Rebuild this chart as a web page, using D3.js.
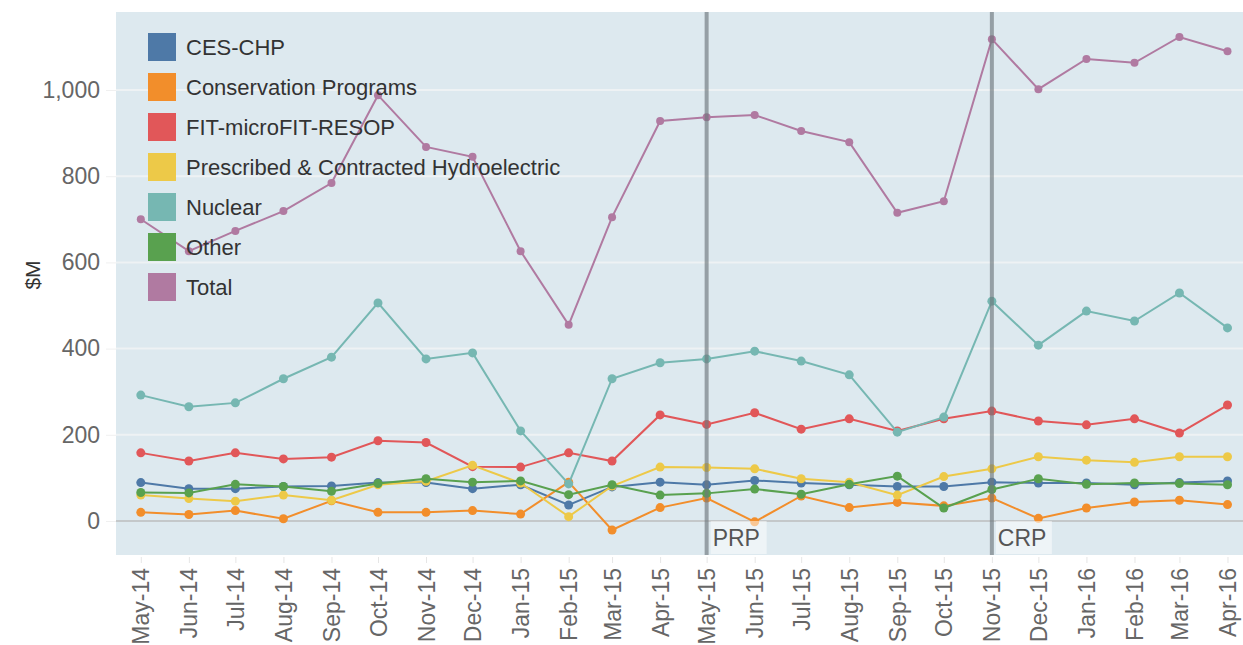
<!DOCTYPE html>
<html>
<head>
<meta charset="utf-8">
<script src="https://cdn.jsdelivr.net/npm/d3@7"></script>
<style>
  body { margin: 0; background: #fff; }
  svg { display: block; font-family: "Liberation Sans", Arial, sans-serif; }
</style>
</head>
<body>
<svg width="1243" height="645"></svg>
<script>
// month labels (first of month)
var months = ["May-14", "Jun-14", "Jul-14", "Aug-14", "Sep-14", "Oct-14", "Nov-14", "Dec-14",
  "Jan-15", "Feb-15", "Mar-15", "Apr-15", "May-15", "Jun-15", "Jul-15", "Aug-15",
  "Sep-15", "Oct-15", "Nov-15", "Dec-15", "Jan-16", "Feb-16", "Mar-16", "Apr-16"];

// values in $M
var cesChp = [89, 75, 75, 80, 81, 89, 89, 75, 84, 37, 79, 90, 84, 94, 88, 84, 80, 80, 90, 88, 88, 84, 89, 93];
var conservation = [20, 15, 24, 5, 47, 20, 20, 24, 16, 90, -21, 31, 53, -2, 58, 31, 43, 35, 53, 6, 30, 44, 48, 38];
var fit = [158, 139, 158, 144, 148, 186, 182, 126, 125, 158, 139, 246, 224, 251, 213, 237, 209, 237, 255, 232, 223, 237, 204, 269];
var hydro = [60, 52, 46, 60, 48, 84, 92, 129, 88, 10, 81, 125, 124, 121, 98, 90, 60, 103, 121, 149, 141, 136, 149, 149];
var nuclear = [292, 265, 274, 330, 380, 506, 376, 390, 209, 86, 330, 367, 376, 394, 371, 339, 206, 241, 510, 408, 487, 464, 529, 448];
var other = [66, 65, 85, 80, 69, 87, 98, 90, 93, 61, 84, 60, 64, 74, 62, 85, 104, 30, 73, 98, 85, 88, 87, 84];
var total = [700, 626, 673, 719, 784, 988, 868, 845, 626, 455, 705, 928, 937, 942, 905, 879, 715, 742, 1118, 1002, 1072, 1063, 1123, 1090];

var seriesNames = ["CES-CHP", "Conservation Programs", "FIT-microFIT-RESOP",
  "Prescribed & Contracted Hydroelectric", "Nuclear", "Other", "Total"];
var seriesValues = [cesChp, conservation, fit, hydro, nuclear, other, total];
var colors = ["#4e79a7", "#f28e2b", "#e15759", "#edc948", "#76b7b2", "#59a14f", "#b07aa1"];

var yTicks = [0, 200, 400, 600, 800, 1000];

// program markers
var markers = [{ month: "May-15", label: "PRP" }, { month: "Nov-15", label: "CRP" }];

var parseMonth = d3.timeParse("%b-%y");
var dates = months.map(parseMonth);

var svg = d3.select("svg");
var plotLeft = 116, plotRight = 1243, plotTop = 12, plotBottom = 555;

var x = d3.scaleTime()
  .domain([d3.timeDay.offset(dates[0], -16), d3.timeDay.offset(dates[dates.length - 1], 10)])
  .range([plotLeft, plotRight]);

var y = d3.scaleLinear()
  .domain([-79, 1181])
  .range([plotBottom, plotTop]);

// panel
svg.append("rect")
  .attr("x", plotLeft).attr("y", plotTop)
  .attr("width", plotRight - plotLeft).attr("height", plotBottom - plotTop)
  .attr("fill", "#dde9ef");

// grid
svg.append("g").selectAll("line")
  .data(yTicks)
  .enter().append("line")
  .attr("x1", plotLeft).attr("x2", plotRight)
  .attr("y1", d => y(d)).attr("y2", d => y(d))
  .attr("stroke", d => d == 0 ? "#c4c8ca" : "#eef2f4")
  .attr("stroke-width", 2);

// y axis
var yAxis = svg.append("g")
  .attr("transform", "translate(" + plotLeft + ",0)")
  .call(d3.axisLeft(y).tickValues(yTicks).tickFormat(d3.format(",")).tickSize(10).tickPadding(6));
yAxis.select(".domain").remove();
yAxis.selectAll("line").attr("stroke", "#f0f0f0");
yAxis.selectAll("text").attr("fill", "#666").style("font-size", "23px");

svg.append("text")
  .attr("transform", "translate(40,275) rotate(-90)")
  .attr("text-anchor", "middle")
  .attr("fill", "#333")
  .style("font-size", "21px")
  .text("$M");

// x axis
var xAxis = svg.append("g")
  .attr("transform", "translate(0," + (plotBottom + 2) + ")")
  .call(d3.axisBottom(x).tickValues(dates).tickFormat(d3.timeFormat("%b-%y")).tickSize(6).tickPadding(4));
xAxis.select(".domain").remove();
xAxis.selectAll("line").attr("stroke", "#e6e6e6");
xAxis.selectAll("text")
  .attr("fill", "#666")
  .style("font-size", "23px")
  .attr("text-anchor", "end")
  .attr("dy", "0.35em")
  .attr("transform", "translate(0,9) rotate(-90)")
  .attr("x", -2).attr("y", 0);

// series
var line = d3.line()
  .x((d, i) => x(dates[i]))
  .y(d => y(d));

seriesValues.forEach(function (vals, s) {
  var g = svg.append("g");
  g.append("path")
    .attr("d", line(vals))
    .attr("fill", "none")
    .attr("stroke", colors[s])
    .attr("stroke-width", 2);
  g.selectAll("circle")
    .data(vals)
    .enter().append("circle")
    .attr("cx", (d, i) => x(dates[i]))
    .attr("cy", d => y(d))
    .attr("r", s == 6 ? 4 : 4.5)
    .attr("fill", colors[s]);
});

// vertical program lines with labels
markers.forEach(function (m) {
  var mx = x(parseMonth(m.month));
  svg.append("line")
    .attr("x1", mx).attr("x2", mx)
    .attr("y1", plotTop).attr("y2", plotBottom)
    .attr("stroke", "#6e787d")
    .attr("stroke-opacity", 0.65)
    .attr("stroke-width", 4);
  svg.append("rect")
    .attr("x", mx + 4).attr("y", 521)
    .attr("width", 56).attr("height", 33)
    .attr("fill", "#ffffff")
    .attr("fill-opacity", 0.5);
  svg.append("text")
    .attr("x", mx + 6).attr("y", 546)
    .attr("fill", "#555")
    .style("font-size", "23px")
    .text(m.label);
});

// legend
var legend = svg.append("g").attr("transform", "translate(148,33)");
seriesNames.forEach(function (name, i) {
  var row = legend.append("g").attr("transform", "translate(0," + (i * 40) + ")");
  row.append("rect")
    .attr("width", 28).attr("height", 28)
    .attr("fill", colors[i]);
  row.append("text")
    .attr("x", 38).attr("y", 14)
    .attr("dy", "0.35em")
    .attr("fill", "#333")
    .style("font-size", "22px")
    .text(name);
});
</script>
</body>
</html>
